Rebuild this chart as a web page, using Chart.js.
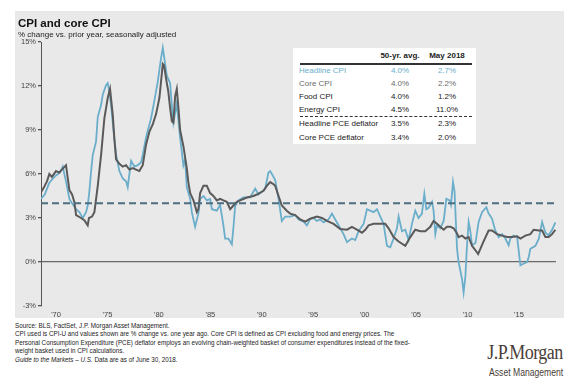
<!DOCTYPE html>
<html>
<head>
<meta charset="utf-8">
<script src="https://cdn.jsdelivr.net/npm/chart.js@4.4.0/dist/chart.umd.min.js"></script>
<style>
  body { margin: 0; width: 569px; height: 392px; background: #fff; position: relative; overflow: hidden;
         font-family: "Liberation Sans", Arial, sans-serif; }
  #panel { position: absolute; left: 15px; top: 11px; width: 549px; height: 307px; background: #e9e9e9; }
  #chartBox { position: absolute; left: 0; top: 0; width: 549px; height: 307px; }
  .title { position: absolute; left: 3px; top: 6px; font-size: 11.5px; font-weight: bold; color: #111; }
  .sub { position: absolute; left: 3px; top: 19px; font-size: 8px; color: #222; }
  #tbl { position: absolute; left: 278px; top: 37px; width: 183px; height: 96px; background: #fff; font-size: 8px; color: #222; }
  #tbl div { position: absolute; white-space: nowrap; line-height: 10px; }
  .foot { position: absolute; left: 15px; top: 322px; font-size: 6.3px; line-height: 8.4px; color: #222; }
  .logo { position: absolute; right: 6px; top: 341px; font-family: "Liberation Serif", "DejaVu Serif", serif;
          font-size: 20px; color: #4a3e38; letter-spacing: -0.6px; transform: scaleX(0.9); transform-origin: right top; }
  .am { position: absolute; right: 6px; top: 367px; font-family: "Liberation Sans Narrow", "Liberation Sans", sans-serif;
        font-size: 10px; color: #4a3e38; transform: scaleX(0.86); transform-origin: right top; }
</style>
</head>
<body>
<div id="panel">
  <div id="chartBox"><canvas id="cpiChart"></canvas></div>
  <div class="title">CPI and core CPI</div>
  <div class="sub">% change vs. prior year, seasonally adjusted</div>
  <div id="tbl"></div>
</div>
<div class="foot">
  Source: BLS, FactSet, J.P. Morgan Asset Management.<br>
  CPI used is CPI-U and values shown are % change vs. one year ago. Core CPI is defined as CPI excluding food and energy prices. The<br>
  Personal Consumption Expenditure (PCE) deflator employs an evolving chain-weighted basket of consumer expenditures instead of the fixed-<br>
  weight basket used in CPI calculations.<br>
  <i>Guide to the Markets – U.S.</i> Data are as of June 30, 2018.
</div>
<div class="logo">J.P.Morgan</div>
<div class="am">Asset Management</div>

<script>
// values (decimal years, % y/y)
const headlineYears = [1968.54, 1968.9, 1969.35, 1969.7, 1970.0, 1970.4, 1970.65, 1970.97, 1971.3, 1971.46, 1971.95,
  1972.27, 1972.6, 1972.92, 1973.08, 1973.24, 1973.4, 1973.57, 1973.89, 1974.06, 1974.38, 1974.54, 1974.86, 1975.03,
  1975.18, 1975.35, 1975.57, 1975.84, 1976.16, 1976.49, 1976.81, 1976.97, 1977.3, 1977.62, 1977.95, 1978.27, 1978.43,
  1978.75, 1979.24, 1979.56, 1979.89, 1980.21, 1980.38, 1980.77, 1981.09, 1981.26, 1981.41, 1981.74, 1982.06, 1982.38,
  1982.55, 1982.71, 1983.04, 1983.2, 1983.52, 1983.84, 1984.01, 1984.33, 1984.66, 1984.98, 1985.15, 1985.63, 1985.95,
  1986.27, 1986.44, 1986.76, 1987.09, 1987.25, 1987.41, 1987.73, 1988.22, 1988.87, 1989.36, 1989.68, 1990.01, 1990.33,
  1990.65, 1990.82, 1991.3, 1991.63, 1991.95, 1992.28, 1992.76, 1993.25, 1993.57, 1994.06, 1994.39, 1994.71, 1995.03,
  1995.36, 1995.68, 1996.0, 1996.49, 1996.82, 1997.14, 1997.63, 1997.95, 1998.28, 1998.76, 1999.09, 1999.41, 1999.9,
  2000.22, 2000.54, 2000.87, 2001.2, 2001.52, 2001.84, 2002.17, 2002.49, 2002.81, 2003.14, 2003.3, 2003.63, 2003.95,
  2004.27, 2004.6, 2004.92, 2005.24, 2005.57, 2005.8, 2005.99, 2006.22, 2006.55, 2006.7, 2006.87, 2007.03, 2007.35,
  2007.68, 2007.94, 2008.26, 2008.39, 2008.59, 2008.74, 2008.98, 2009.13, 2009.46, 2009.62, 2009.79, 2009.95, 2010.11,
  2010.27, 2010.44, 2010.77, 2011.08, 2011.41, 2011.83, 2012.05, 2012.38, 2012.7, 2013.03, 2013.36, 2013.68, 2014.0,
  2014.16, 2014.48, 2014.82, 2015.14, 2015.47, 2015.79, 2015.95, 2016.11, 2016.43, 2016.6, 2016.93, 2017.25, 2017.57,
  2017.89, 2018.22, 2018.54];
const headlineValues = [4.3, 4.6, 5.4, 5.7, 5.9, 6.1, 6.5, 5.5, 4.3, 4.1, 3.6,
  3.4, 3.0, 3.4, 3.85, 4.8, 6.1, 7.3, 8.2, 9.9, 10.7, 11.4, 12.05, 12.2,
  11.6, 10.7, 9.1, 7.3, 6.2, 5.7, 5.5, 5.1, 6.9, 6.5, 6.6, 6.8, 7.3,
  8.5, 9.8, 11.0, 12.3, 13.9, 14.6, 12.7, 12.2, 10.7, 9.5, 10.8, 8.5, 6.6,
  7.0, 5.1, 4.3, 3.4, 2.4, 3.3, 4.3, 4.5, 4.2, 4.3, 3.6, 3.5, 3.9,
  2.5, 1.6, 1.6, 1.2, 2.4, 3.8, 4.2, 4.4, 4.4, 5.0, 4.6, 4.8, 5.0,
  6.1, 6.2, 5.6, 4.3, 2.8, 3.1, 3.1, 3.2, 2.9, 2.75, 2.5, 2.95, 3.0,
  2.8, 2.9, 2.7, 2.9, 3.3, 2.9, 2.3, 1.9, 1.35, 1.6, 1.5, 2.1, 2.6,
  3.6, 3.5, 3.4, 3.6, 3.1, 2.6, 1.1, 1.0, 1.6, 2.3, 3.1, 2.1, 2.2,
  1.5, 2.6, 3.5, 3.0, 3.3, 4.65, 3.6, 3.7, 4.1, 3.5, 1.9, 2.5, 2.3,
  2.8, 4.3, 4.2, 3.9, 5.45, 4.8, 0.9, 0.0, -1.14, -2.07, -1.0, 1.14, 2.73,
  2.1, 1.14, 1.3, 2.73, 3.4, 3.74, 3.3, 2.96, 2.14, 1.69, 1.9, 1.6, 1.14,
  1.6, 1.8, 1.7, -0.23, -0.1, 0.0, 0.34, 0.9, 1.03, 1.1, 1.59, 2.73, 2.0,
  1.82, 2.2, 2.7];

const coreYears = [1968.54, 1968.83, 1969.12, 1969.35, 1969.6, 1970.0, 1970.3, 1970.58, 1970.97, 1971.3, 1971.56,
  1971.78, 1971.95, 1972.43, 1972.75, 1973.08, 1973.2, 1973.5, 1973.73, 1974.06, 1974.38, 1974.7, 1975.03, 1975.25,
  1975.52, 1975.67, 1975.84, 1976.16, 1976.49, 1976.81, 1977.13, 1977.46, 1977.78, 1978.1, 1978.43, 1978.75, 1979.08,
  1979.41, 1979.73, 1980.05, 1980.38, 1980.5, 1980.77, 1980.92, 1981.09, 1981.26, 1981.41, 1981.58, 1981.74, 1981.9,
  1982.06, 1982.38, 1982.71, 1982.87, 1983.04, 1983.36, 1983.69, 1983.84, 1984.01, 1984.33, 1984.66, 1984.98, 1985.3,
  1985.63, 1985.95, 1986.27, 1986.6, 1986.93, 1987.25, 1987.58, 1987.9, 1988.55, 1989.19, 1989.52, 1990.17, 1990.5,
  1990.82, 1991.14, 1991.3, 1991.63, 1991.95, 1992.43, 1992.76, 1993.25, 1993.74, 1994.22, 1994.71, 1995.36, 1995.85,
  1996.33, 1996.98, 1997.63, 1998.28, 1998.76, 1999.25, 1999.74, 2000.06, 2000.38, 2000.87, 2001.52, 2002.0, 2002.33,
  2002.81, 2003.3, 2003.95, 2004.44, 2004.92, 2005.41, 2005.89, 2006.38, 2006.7, 2007.03, 2007.35, 2007.68, 2008.0,
  2008.33, 2008.65, 2008.98, 2009.13, 2009.46, 2009.79, 2010.11, 2010.44, 2010.77, 2011.03, 2011.25, 2011.56, 2012.05,
  2012.38, 2012.87, 2013.36, 2013.84, 2014.33, 2014.82, 2015.14, 2015.62, 2016.11, 2016.43, 2016.93, 2017.25, 2017.57,
  2017.89, 2018.22, 2018.54];
const coreValues = [4.76, 5.1, 5.5, 6.0, 5.8, 6.2, 6.1, 6.3, 6.6, 4.9, 4.6,
  4.1, 3.2, 3.0, 2.85, 2.5, 3.0, 3.1, 3.4, 5.2, 7.3, 9.8, 11.2, 11.8,
  10.0, 8.4, 7.0, 6.7, 6.5, 6.6, 6.3, 6.4, 6.3, 6.2, 6.6, 8.0, 8.9,
  9.4, 10.1, 11.2, 13.5, 13.4, 12.2, 11.6, 10.5, 9.6, 9.5, 11.3, 11.8, 10.5,
  9.0, 7.9, 6.4, 5.4, 4.7, 4.2, 3.4, 3.6, 4.7, 5.2, 5.2, 4.7, 4.5,
  4.2, 4.3, 4.2, 4.1, 3.6, 3.85, 4.1, 4.2, 4.4, 4.5, 4.6, 4.85, 5.2,
  5.45, 5.3, 5.2, 4.5, 3.85, 3.5, 3.3, 3.2, 2.9, 2.75, 2.95, 3.1, 3.0,
  2.8, 2.6, 2.25, 2.2, 2.4, 2.2, 2.0, 2.2, 2.5, 2.6, 2.6, 2.6, 2.3,
  1.7, 1.4, 1.1, 1.7, 2.2, 2.1, 2.1, 2.4, 2.8, 2.6, 2.4, 2.2, 2.4,
  2.4, 2.3, 1.95, 1.7, 1.8, 1.6, 1.7, 1.1, 0.8, 0.55, 0.9, 1.4, 2.15,
  2.15, 1.9, 1.8, 1.7, 1.7, 1.75, 1.6, 1.8, 1.9, 2.2, 2.15, 2.15, 1.7,
  1.7, 1.9, 2.2];

const avgLineValue = 4.0;
const xMin = 1968.54, xMax = 2018.6;
const tickYears = [1970, 1975, 1980, 1985, 1990, 1995, 2000, 2005, 2010, 2015];
const tickLabels = ["'70", "'75", "'80", "'85", "'90", "'95", "'00", "'05", "'10", "'15"];

const tableRows = ["Headline CPI", "Core CPI", "Food CPI", "Energy CPI", "Headline PCE deflator", "Core PCE deflator"];
const tableAvg = ["4.0%", "4.0%", "4.0%", "4.5%", "3.5%", "3.4%"];
const tableMay = ["2.7%", "2.2%", "1.2%", "11.0%", "2.3%", "2.0%"];

const BLUE = "#6aaecb";
const GREY = "#5a5a5a";

// summary table
const tbl = document.getElementById("tbl");
const rowTops = [18, 30.5, 43.5, 57, 71, 85];
const rowColors = [BLUE, "#6b6b6b", "#222", "#222", "#222", "#222"];
let html = `<div style="left:87px;top:3px;width:40px;text-align:center;font-weight:bold">50-yr. avg.</div>
  <div style="left:134px;top:3px;width:40px;text-align:center;font-weight:bold">May 2018</div>
  <div style="left:7px;top:15px;width:172px;height:0;border-top:2px solid #333"></div>
  <div style="left:7px;top:68px;width:172px;height:0;border-top:1px dashed #333"></div>`;
tableRows.forEach((name, i) => {
  const c = rowColors[i];
  html += `<div style="left:6px;top:${rowTops[i]}px;color:${c}">${name}</div>
    <div style="left:87px;top:${rowTops[i]}px;width:40px;text-align:center;color:${c}">${tableAvg[i]}</div>
    <div style="left:134px;top:${rowTops[i]}px;width:40px;text-align:center;color:${c}">${tableMay[i]}</div>`;
});
tbl.innerHTML = html;

const toPoints = (xs, ys) => xs.map((x, i) => ({ x, y: ys[i] }));

new Chart(document.getElementById("cpiChart"), {
  type: "line",
  data: {
    datasets: [
      {
        label: "50-yr. avg.",
        data: [{ x: xMin, y: avgLineValue }, { x: 2018.45, y: avgLineValue }],
        borderColor: "#4e6e80",
        borderWidth: 2,
        borderDash: [7, 4],
        pointRadius: 0,
      },
      {
        label: "Core CPI",
        data: toPoints(coreYears, coreValues),
        borderColor: GREY,
        borderWidth: 2,
        pointRadius: 0,
      },
      {
        label: "Headline CPI",
        data: toPoints(headlineYears, headlineValues),
        borderColor: BLUE,
        borderWidth: 1.8,
        pointRadius: 0,
      },
    ],
  },
  options: {
    responsive: true,
    maintainAspectRatio: false,
    animation: false,
    layout: { padding: { top: 31, right: 8, left: 0, bottom: 0 } },
    plugins: { legend: { display: false }, tooltip: { enabled: false } },
    elements: { line: { tension: 0 } },
    scales: {
      x: {
        type: "linear",
        min: xMin,
        max: xMax,
        afterBuildTicks: (scale) => { scale.ticks = tickYears.map((v) => ({ value: v })); },
        afterFit: (scale) => { scale.height = 12; },
        border: { display: false },
        grid: { display: false, drawTicks: false },
        ticks: {
          autoSkip: false,
          maxRotation: 0,
          padding: 4,
          color: "#444",
          font: { family: "Liberation Sans", size: 7.5 },
          callback: (v) => tickLabels[tickYears.indexOf(v)],
        },
      },
      y: {
        min: -3,
        max: 15,
        afterFit: (scale) => { scale.width = 26; },
        border: { display: true, color: "#555", width: 1 },
        grid: {
          drawOnChartArea: true,
          drawTicks: true,
          tickLength: 3,
          tickColor: "#555",
          color: (ctx) => (ctx.tick && ctx.tick.value === 0 ? "#6a6a6a" : "rgba(0,0,0,0)"),
          lineWidth: 1.3,
        },
        ticks: {
          stepSize: 3,
          padding: 2,
          color: "#444",
          font: { family: "Liberation Sans", size: 7.5 },
          callback: (v) => v + "%",
        },
      },
    },
  },
});
</script>
</body>
</html>
